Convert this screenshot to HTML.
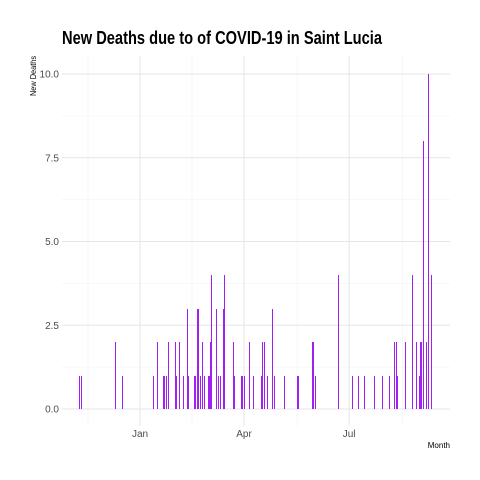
<!DOCTYPE html>
<html><head><meta charset="utf-8"><style>
body{margin:0;background:#fff}
svg{display:block;font-family:"Liberation Sans",sans-serif}
</style></head><body>
<svg id="chart" width="480" height="480">
<text x="62" y="44" font-family="'Liberation Sans Narrow','Liberation Sans',sans-serif" font-weight="bold" font-size="18" textLength="320" lengthAdjust="spacingAndGlyphs" fill="#000">New Deaths due to of COVID-19 in Saint Lucia</text>
<g id="grid"></g>
<g id="bars" shape-rendering="crispEdges"></g>
<g id="axes"></g>
<text x="36" y="76" transform="rotate(-90 36 76)" text-anchor="middle" font-size="8" textLength="40" lengthAdjust="spacingAndGlyphs" fill="#000">New Deaths</text>
<text x="450" y="448" text-anchor="end" font-size="8" fill="#000">Month</text>
</svg>
<script>
// days since 2021-01-01
const dayOffsets = [-52,-51,-21,-15,12,15,20,21,23,25,31,32,34,38,41,42,47,48,50,51,52,54,56,59,60,61,62,66,68,70,72,73,81,82,88,89,90,95,98,105,106,108,110,115,116,125,136,137,149,150,152,172,184,189,194,203,210,216,220,222,223,230,236,239,242,243,244,245,248,250,252];
const deaths = [1,1,2,1,1,2,1,1,1,2,2,1,2,1,3,1,1,1,3,3,1,2,1,1,1,2,4,3,1,1,3,4,2,1,1,1,1,2,1,1,2,2,1,3,1,1,1,1,2,2,1,4,1,1,1,1,1,1,2,2,1,2,4,2,1,2,2,8,2,10,4];
const yTicks = [0,2.5,5,7.5,10];
const yTickLabels = ["0.0","2.5","5.0","7.5","10.0"];
const xTicks = [0,90,181];
const xTickLabels = ["Jan","Apr","Jul"];
const xMinor = [-45,45,136,227];

const NS="http://www.w3.org/2000/svg";
const L=62,R=450,T=56,B=426;
const x=d=>140+d*1.1556;
const y=v=>409-v*33.5;
function mk(tag,attrs,parent){const e=document.createElementNS(NS,tag);for(const k in attrs)e.setAttribute(k,attrs[k]);parent.appendChild(e);return e;}
const grid=document.getElementById('grid'),bars=document.getElementById('bars'),axes=document.getElementById('axes');
for(let i=0;i<yTicks.length-1;i++){
  const m=(yTicks[i]+yTicks[i+1])/2;
  const ln=mk('line',{x1:L,x2:R,y1:y(m),y2:y(m),stroke:'#f0f0f0','stroke-width':0.6},grid);
  
  
}
xMinor.forEach(d=>{
  const ln=mk('line',{x1:x(d),x2:x(d),y1:T,y2:B,stroke:'#f0f0f0','stroke-width':0.6},grid);
  
  
});
yTicks.forEach((v,i)=>{
  const ln=mk('line',{x1:L,x2:R,y1:y(v),y2:y(v),stroke:'#e6e6e6','stroke-width':1},grid);
  
  
  const t=mk('text',{x:59,y:y(v)+3.5,'text-anchor':'end','font-size':10,fill:'#4d4d4d'},axes);
  t.textContent=yTickLabels[i];
  
  
});
xTicks.forEach((d,i)=>{
  const ln=mk('line',{x1:x(d),x2:x(d),y1:T,y2:B,stroke:'#e6e6e6','stroke-width':1},grid);
  
  
  const t=mk('text',{x:x(d),y:437,'text-anchor':'middle','font-size':10,fill:'#4d4d4d'},axes);
  t.textContent=xTickLabels[i];
  
  
});
dayOffsets.forEach((d,i)=>{
  const v=deaths[i];
  const r=mk('rect',{x:Math.round(x(d)-0.5),y:Math.round(y(v)),width:1,height:Math.round(y(0))-Math.round(y(v)),fill:'#a020f0'},bars);
  
  
});
</script>
</body></html>
